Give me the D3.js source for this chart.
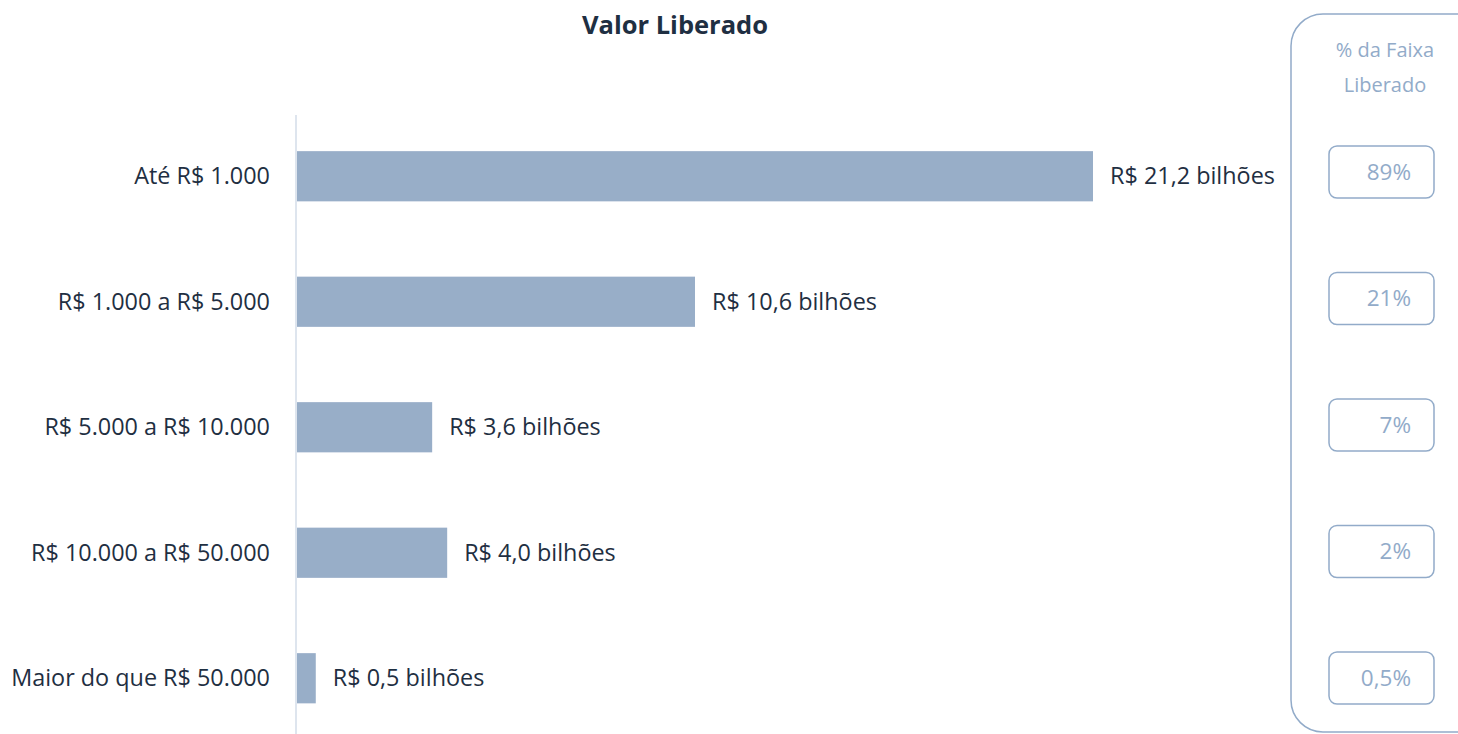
<!DOCTYPE html>
<html><head><meta charset="utf-8">
<script src="https://cdn.jsdelivr.net/npm/d3@7"></script>
<style>body{margin:0;background:#fff}svg{display:block;font-family:"Open Sans",sans-serif}</style>
</head><body><svg id="c" width="1458" height="734"></svg>
<script>
const categories = ["Até R$ 1.000","R$ 1.000 a R$ 5.000","R$ 5.000 a R$ 10.000","R$ 10.000 a R$ 50.000","Maior do que R$ 50.000"];
const values = [21.2, 10.6, 3.6, 4.0, 0.5];
const valueLabels = ["R$ 21,2 bilhões","R$ 10,6 bilhões","R$ 3,6 bilhões","R$ 4,0 bilhões","R$ 0,5 bilhões"];
const shareLabels = ["89%","21%","7%","2%","0,5%"];
const title = "Valor Liberado";
const panelTitle = ["% da Faixa","Liberado"];

const svg = d3.select("#c");
const x = d3.scaleLinear().domain([0, 21.2]).range([297, 1093]);
const y = d3.scaleBand().domain(categories).range([113.5, 741]).paddingInner(0.6).paddingOuter(0.3);
const yBox = d3.scalePoint().domain(categories).range([172, 678]);

const txt = "#1f2f42", barC = "#98aec8", pc = "#92abc9";

svg.append("text").attr("x", 675).attr("y", 34).attr("text-anchor","middle")
  .attr("font-size", 25.5).attr("font-weight","bold").attr("fill", txt).text(title);

svg.append("line").attr("x1",296).attr("x2",296).attr("y1",115).attr("y2",734)
  .attr("stroke","#d3dce9").attr("stroke-width",1.5);

svg.selectAll("rect.bar").data(values).join("rect").attr("class","bar")
  .attr("x", x(0)).attr("y",(d,i)=>y(categories[i]))
  .attr("width", d=>x(d)-x(0)).attr("height", y.bandwidth()).attr("fill", barC);

svg.selectAll("text.cat").data(categories).join("text").attr("class","cat")
  .attr("x", 270).attr("y", d=>y(d)+y.bandwidth()/2).attr("dy","0.35em")
  .attr("text-anchor","end").attr("font-size",23.4).attr("fill",txt).text(d=>d);

svg.selectAll("text.val").data(values).join("text").attr("class","val")
  .attr("x", d=>x(d)+17).attr("y",(d,i)=>y(categories[i])+y.bandwidth()/2).attr("dy","0.35em")
  .attr("font-size",23.4).attr("fill",txt).text((d,i)=>valueLabels[i]);

// right panel
svg.append("rect").attr("x",1291).attr("y",14).attr("width",200).attr("height",718)
  .attr("rx",32).attr("fill","none").attr("stroke",pc).attr("stroke-width",1.5);
svg.selectAll("text.ph").data(panelTitle).join("text").attr("class","ph")
  .attr("x",1385).attr("y",(d,i)=>57+i*35).attr("text-anchor","middle")
  .attr("font-size",20).attr("fill",pc).text(d=>d);

const bw = 52;
svg.selectAll("rect.box").data(categories).join("rect").attr("class","box")
  .attr("x",1329).attr("y",d=>yBox(d)-bw/2).attr("width",105).attr("height",bw)
  .attr("rx",8).attr("fill","none").attr("stroke",pc).attr("stroke-width",1.5);
svg.selectAll("text.sh").data(shareLabels).join("text").attr("class","sh")
  .attr("x",1411).attr("y",(d,i)=>yBox(categories[i])).attr("dy","0.35em")
  .attr("text-anchor","end").attr("font-size",22.5).attr("fill",pc).text(d=>d);
</script></body></html>
